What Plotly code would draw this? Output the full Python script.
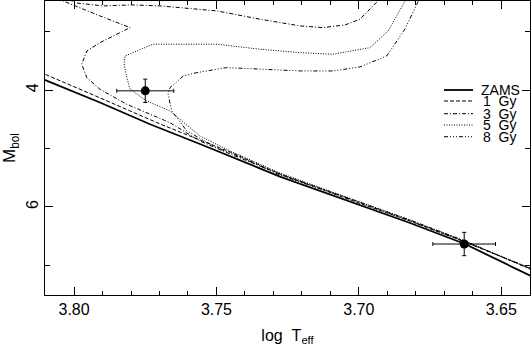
import plotly.graph_objects as go

# =========================
# DATA
# =========================
zams_logt = [3.8119, 3.8102, 3.7909, 3.7733, 3.7558, 3.7277, 3.7000, 3.6820, 3.6627, 3.6399, 3.6381]
zams_mbol = [3.789, 3.823, 4.210, 4.583, 4.921, 5.480, 5.968, 6.276, 6.636, 7.168, 7.220]

iso1_logt = [3.8119, 3.8102, 3.7909, 3.7698, 3.7558, 3.7452, 3.7277, 3.7000, 3.6820, 3.6627, 3.6392]
iso1_mbol = [3.686, 3.726, 4.130, 4.578, 4.853, 5.058, 5.436, 5.933, 6.242, 6.600, 7.070]

iso3_logt = [3.6392, 3.6627, 3.6820, 3.7000, 3.7277, 3.7452, 3.7558, 3.7663, 3.7815, 3.7909,
             3.7955, 3.7973, 3.7955, 3.7909, 3.7803, 3.7909, 3.8039, 3.8067, 3.8028, 3.8004,
             3.7898, 3.7796, 3.7698, 3.7498, 3.7347, 3.7206, 3.7126, 3.7048, 3.6996, 3.6933, 3.6919]
iso3_mbol = [7.080, 6.585, 6.225, 5.916, 5.436, 5.093, 4.870, 4.556, 4.240, 3.983,
             3.784, 3.554, 3.326, 3.184, 2.926, 2.726, 2.468, 2.365, 2.314, 2.497,
             2.554, 2.537, 2.554, 2.640, 2.782, 2.897, 2.926, 2.880, 2.782, 2.468, 2.380]

iso5_logt = [3.6392, 3.6627, 3.6820, 3.7000, 3.7277, 3.7452, 3.7558, 3.7663, 3.7745, 3.7803,
             3.7815, 3.7824, 3.7821, 3.7723, 3.7498, 3.7347, 3.7206, 3.7091, 3.6961, 3.6897,
             3.6838, 3.6827]
iso5_mbol = [7.065, 6.585, 6.225, 5.907, 5.418, 5.041, 4.784, 4.355, 4.184, 3.983,
             3.784, 3.549, 3.412, 3.211, 3.211, 3.297, 3.355, 3.383, 3.269, 2.983,
             2.468, 2.380]

iso8_logt = [3.6392, 3.6627, 3.6820, 3.7000, 3.7277, 3.7417, 3.7499, 3.7604, 3.7657, 3.7670,
             3.7663, 3.7616, 3.7569, 3.7464, 3.7206, 3.7090, 3.6996, 3.6902, 3.6838, 3.6788, 3.6782]
iso8_mbol = [7.065, 6.600, 6.242, 5.916, 5.453, 5.144, 4.985, 4.698, 4.355, 4.063,
             3.955, 3.755, 3.698, 3.612, 3.669, 3.669, 3.600, 3.412, 2.949, 2.468, 2.380]

star_logt = [3.775, 3.663]
star_mbol = [4.01, 6.636]
star_logt_err = [0.010, 0.011]
star_mbol_err = [0.20, 0.20]

legend_names = ["ZAMS", "1\u00a0\u00a0Gy", "3\u00a0\u00a0Gy", "5\u00a0\u00a0Gy", "8\u00a0\u00a0Gy"]

FONT = "Liberation Sans, Arial, sans-serif"

curves = [
    (zams_logt, zams_mbol, 1.8, "solid"),
    (iso1_logt, iso1_mbol, 1, "4px,2px"),
    (iso3_logt, iso3_mbol, 1, "4px,2px,1px,2px"),
    (iso5_logt, iso5_mbol, 1, "1px,1.5px"),
    (iso8_logt, iso8_mbol, 1, "4px,2px,1px,2px,1px,2px,1px,2px"),
]

fig = go.Figure()

# =========================
# ZAMS + ISOCHRONES
# =========================
for (lx, ly, w, d), name in zip(curves, legend_names):
    fig.add_trace(go.Scatter(
        x=lx, y=ly, mode="lines", name=name,
        line=dict(color="black", width=w, dash=d),
        showlegend=False
    ))

# =========================
# STARS WITH ERROR BARS
# =========================
fig.add_trace(go.Scatter(
    x=star_logt, y=star_mbol, mode="markers",
    marker=dict(color="black", size=9),
    error_x=dict(type="data", array=star_logt_err, color="black", thickness=1, width=2),
    error_y=dict(type="data", array=star_mbol_err, color="black", thickness=1, width=2),
    showlegend=False
))

# =========================
# HAND-MADE LEGEND (tight line spacing)
# =========================
leg_y = [0.6973, 0.6599, 0.6167, 0.5782, 0.5384]
for (lx, ly, w, d), name, yy in zip(curves, legend_names, leg_y):
    fig.add_shape(type="line", xref="paper", yref="paper",
                  x0=0.8227, x1=0.8825, y0=yy, y1=yy,
                  line=dict(color="black", width=w, dash=d))
    fig.add_annotation(xref="paper", yref="paper", x=0.8948 if name == "ZAMS" else 0.899,
                       y=yy, text=name, showarrow=False, xanchor="left", yanchor="middle",
                       font=dict(family=FONT, size=14, color="black"))

axis_common = dict(
    showline=True, linecolor="black", linewidth=1, mirror="ticks",
    ticks="inside", tickcolor="black", showgrid=False, zeroline=False,
    automargin=False,
    tickfont=dict(family=FONT, size=16, color="black"),
)

fig.update_layout(
    width=531, height=352,
    margin=dict(l=45, r=1, t=1, b=57),
    paper_bgcolor="white", plot_bgcolor="white",
    xaxis=dict(
        range=[3.8102, 3.6399], tickvals=[3.80, 3.75, 3.70, 3.65],
        ticktext=["3.80", "3.75", "3.70", "3.65"], ticklen=8,
        minor=dict(dtick=0.01, tick0=3.60, ticklen=4, ticks="inside", tickcolor="black"),
        title=dict(text="log\u00a0\u00a0T<sub>eff</sub>", standoff=12,
                   font=dict(family=FONT, size=16, color="black")),
        **axis_common
    ),
    yaxis=dict(
        range=[7.51, 2.47], tickvals=[4, 6], ticktext=["4", "6"], ticklen=8,
        tickangle=-90,
        minor=dict(dtick=1, tick0=0, ticklen=5, ticks="inside", tickcolor="black"),
        title=dict(text="M<sub>bol</sub>", standoff=6,
                   font=dict(family=FONT, size=17, color="black")),
        **axis_common
    ),
)

# page body has a default 8px margin; drop it so the chart sits at the window corner
fig.write_html("out.html", config={"displayModeBar": False},
               post_script="document.body.style.margin='0';")
